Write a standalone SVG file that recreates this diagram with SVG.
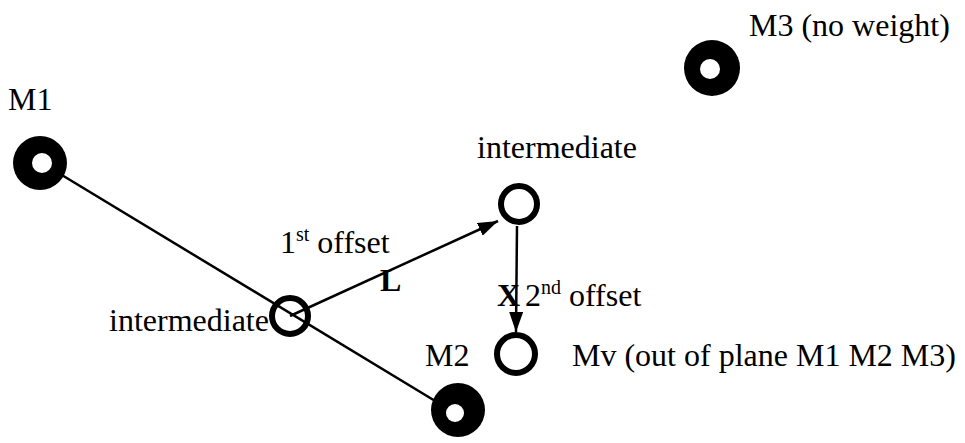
<svg xmlns="http://www.w3.org/2000/svg" width="965" height="443" viewBox="0 0 965 443">
<style>
text{font-family:"Liberation Serif","Times New Roman",serif;font-size:32px;fill:#000}
.b{font-weight:bold}
.sup{font-size:20px}
.mass{fill:#000}
.hole{fill:#fff}
.ring{fill:none;stroke:#000;stroke-width:6}
.ln{stroke:#000;stroke-width:2.5;fill:none}
</style>
<defs>
<marker id="ah" viewBox="0 0 20 14" refX="20" refY="7" markerWidth="20" markerHeight="14" markerUnits="userSpaceOnUse" orient="auto">
<path d="M0,0 L20,7 L0,14 Z" fill="#000"/>
</marker>
</defs>
<rect width="965" height="443" fill="#fff"/>
<g id="connectors">
<line class="ln" x1="42" y1="163" x2="455" y2="413"/>
<line class="ln" x1="290" y1="316" x2="498" y2="221" marker-end="url(#ah)"/>
<line class="ln" x1="517" y1="226" x2="516" y2="332" marker-end="url(#ah)"/>
</g>
<g id="M1">
<circle class="mass" cx="40" cy="163" r="27"/>
<circle class="hole" cx="42" cy="163" r="10"/>
<text x="8" y="110">M1</text>
</g>
<g id="M2">
<circle class="mass" cx="458" cy="410" r="27"/>
<circle class="hole" cx="455" cy="413" r="9"/>
<text x="425" y="366">M2</text>
</g>
<g id="M3">
<circle class="mass" cx="712" cy="68" r="28"/>
<circle class="hole" cx="710" cy="69" r="10"/>
<text x="749" y="36">M3 (no weight)</text>
</g>
<g id="intermediate1">
<circle class="ring" cx="290" cy="316" r="18"/>
<text x="109" y="331">intermediate</text>
</g>
<g id="intermediate2">
<circle class="ring" cx="519" cy="204" r="18"/>
<text x="477" y="158">intermediate</text>
</g>
<g id="Mv">
<circle class="ring" cx="516" cy="354" r="19"/>
<text x="572" y="366">Mv (out of plane M1 M2 M3)</text>
</g>
<g id="labels">
<text x="280" y="253">1<tspan class="sup" dy="-12">st</tspan><tspan dy="12"> offset</tspan></text>
<text class="b" x="380" y="291">L</text>
<text class="b" x="497" y="306">X</text>
<text x="525" y="306">2<tspan class="sup" dy="-12">nd</tspan><tspan dy="12"> offset</tspan></text>
</g>
</svg>
